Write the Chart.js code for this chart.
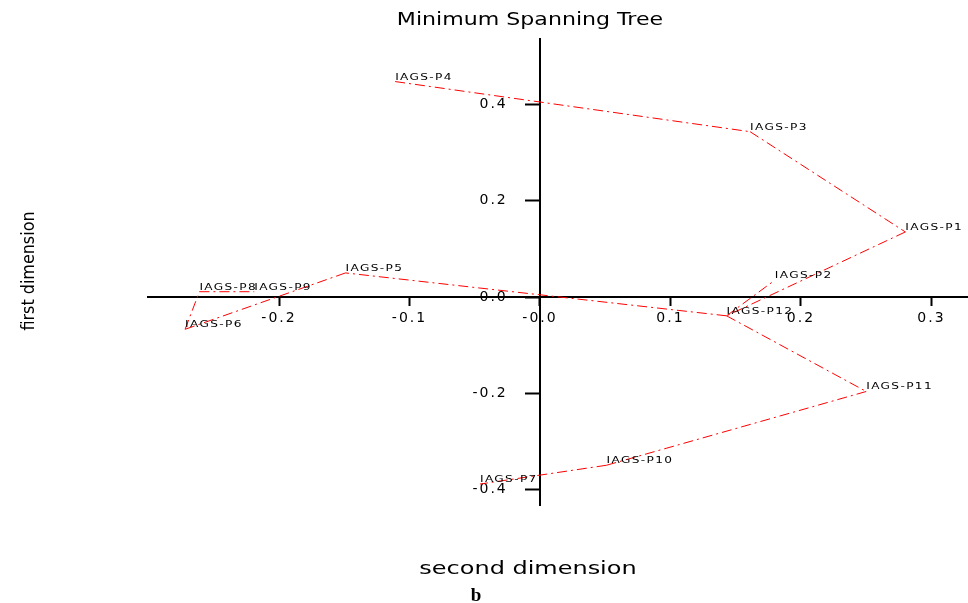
<!DOCTYPE html>
<html>
<head>
<meta charset="utf-8">
<script src="https://cdn.jsdelivr.net/npm/chart.js@4.4.1/dist/chart.umd.min.js"></script>
<style>
  html, body { margin: 0; padding: 0; background: #fff; }
  #wrap { width: 968px; height: 603px; }
</style>
</head>
<body>
<div id="wrap"><canvas id="mst" width="968" height="603"></canvas></div>
<script>
// points of the tree (second dimension = x, first dimension = y)
const pointNames = ['IAGS-P1','IAGS-P2','IAGS-P3','IAGS-P4','IAGS-P5','IAGS-P6',
                    'IAGS-P7','IAGS-P8','IAGS-P9','IAGS-P10','IAGS-P11','IAGS-P12'];
const secondDim = [0.280, 0.180, 0.161, -0.111, -0.149, -0.272, -0.046, -0.261, -0.219, 0.051, 0.250, 0.143];
const firstDim  = [0.135, 0.035, 0.343, 0.447, 0.050, -0.067, -0.388, 0.011, 0.011, -0.349, -0.196, -0.039];

// edges of the minimum spanning tree (1-based point numbers)
const treeEdges = [[4,3],[3,1],[1,12],[12,2],[12,11],[11,10],[10,7],[12,5],[5,6],[6,8],[8,9]];

const xTicks = [-0.2, -0.1, 0, 0.1, 0.2, 0.3];
const yTicks = [-0.4, -0.2, 0, 0.2, 0.4];
const xRange = [-0.3004, 0.328];
const yRange = [-0.4315, 0.5353];

const tickText = v => (Math.abs(v) < 1e-9 ? '-0.0' : v.toFixed(1));

function drawStretched(ctx, text, x, y, font, sx, align, spacing) {
  spacing = spacing || 0;
  ctx.save();
  ctx.font = font;
  ctx.letterSpacing = spacing + 'px';
  ctx.fillStyle = '#000';
  ctx.textAlign = 'left';
  ctx.textBaseline = 'alphabetic';
  const w = ctx.measureText(text).width - spacing;
  ctx.translate(x, y);
  ctx.scale(sx, 1);
  let ox = 0;
  if (align === 'center') ox = -w / 2;
  else if (align === 'right') ox = -w;
  ctx.fillText(text, ox, 0);
  ctx.restore();
}

const mstText = {
  id: 'mstText',
  beforeDraw(chart) {
    chart.ctx.letterSpacing = '2px';   // wide tick numbers
  },
  beforeDatasetsDraw(chart) {
    chart.ctx.letterSpacing = '0px';
  },
  afterDatasetsDraw(chart) {
    const { ctx, scales: { x, y } } = chart;
    pointNames.forEach((name, i) => {
      const px = x.getPixelForValue(secondDim[i]);
      const py = y.getPixelForValue(firstDim[i]);
      drawStretched(ctx, name, px, py - 2, '9px "DejaVu Sans"', 1.35, 'left', 1);
    });
  },
  afterDraw(chart) {
    const ctx = chart.ctx;
    drawStretched(ctx, 'Minimum Spanning Tree', 530, 25, '17px "DejaVu Sans"', 1.3, 'center');
    drawStretched(ctx, 'second dimension', 528, 574, '17px "DejaVu Sans"', 1.41, 'center');
    drawStretched(ctx, 'b', 476, 601, 'bold 19px "Liberation Serif"', 1, 'center');
    ctx.save();
    ctx.translate(34, 271);
    ctx.rotate(-Math.PI / 2);
    drawStretched(ctx, 'first dimension', 0, 0, '17px "DejaVu Sans"', 0.94, 'center');
    ctx.restore();
  }
};

const edgeSets = treeEdges.map(([a, b]) => ({
  data: [
    { x: secondDim[a - 1], y: firstDim[a - 1] },
    { x: secondDim[b - 1], y: firstDim[b - 1] }
  ],
  showLine: true,
  borderColor: '#ff0000',
  borderWidth: 1,
  borderDash: [10, 4, 2, 4],
  pointRadius: 0,
  fill: false
}));

const tickFont = { family: 'DejaVu Sans', size: 14 };

new Chart(document.getElementById('mst'), {
  type: 'scatter',
  data: { datasets: edgeSets },
  options: {
    responsive: false,
    animation: false,
    events: [],
    layout: { padding: { left: 148, right: 0, top: 39, bottom: 98 } },
    plugins: { legend: { display: false }, tooltip: { enabled: false }, title: { display: false } },
    scales: {
      x: {
        type: 'linear',
        min: xRange[0], max: xRange[1],
        position: { y: 0 },
        afterBuildTicks: s => { s.ticks = xTicks.map(v => ({ value: v })); },
        afterFit: s => { s.height = 0; },
        border: { display: true, color: '#000', width: 2 },
        grid: { display: true, drawOnChartArea: false, drawTicks: true, tickLength: 8, tickWidth: 2, tickColor: '#000' },
        ticks: { color: '#000', font: tickFont, autoSkip: false, maxRotation: 0, padding: 5, callback: tickText }
      },
      y: {
        type: 'linear',
        min: yRange[0], max: yRange[1],
        position: { x: 0 },
        afterBuildTicks: s => { s.ticks = yTicks.map(v => ({ value: v })); },
        afterFit: s => { s.width = 0; },
        border: { display: true, color: '#000', width: 2 },
        grid: { display: true, drawOnChartArea: false, drawTicks: true, tickLength: 14, tickWidth: 2, tickColor: '#000' },
        // centred axes put labels right on the axis line, trailing spaces push them clear of the ticks
        ticks: { color: '#000', font: tickFont, autoSkip: false, padding: 0, callback: v => tickText(v) + '     ' }
      }
    }
  },
  plugins: [mstText]
});
</script>
</body>
</html>
